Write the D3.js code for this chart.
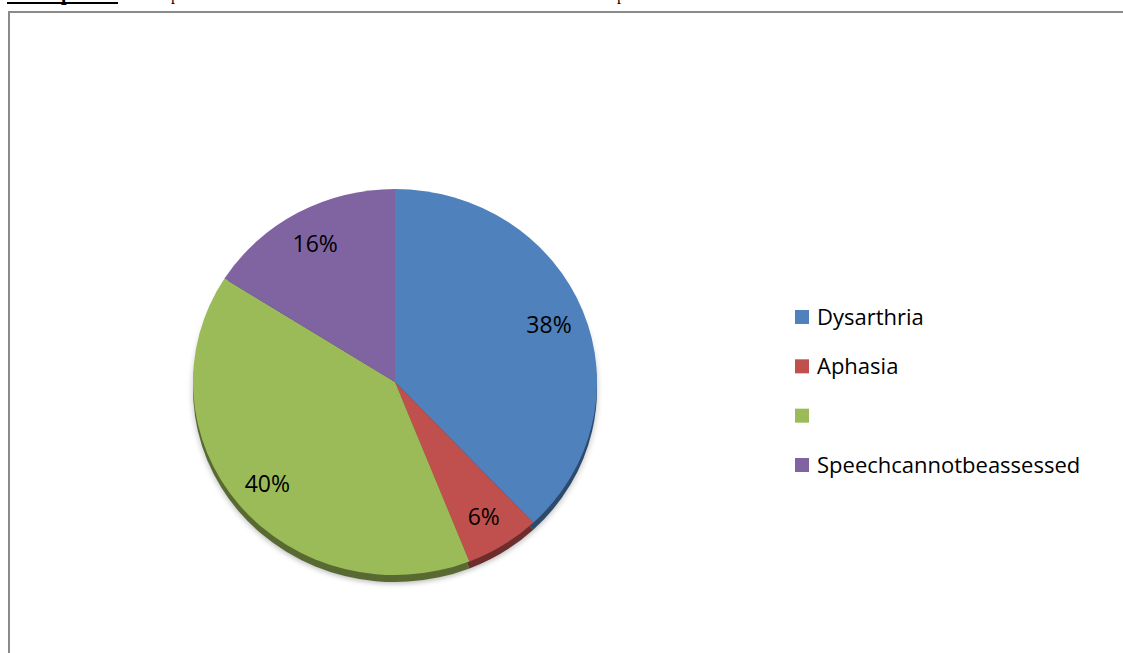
<!DOCTYPE html>
<html>
<head>
<meta charset="utf-8">
<script src="https://cdn.jsdelivr.net/npm/d3@7"></script>
<style>
  body { margin: 0; background: #fff; }
  svg { display: block; }
  .slice-label, .legend text { font-family: 'Open Sans', sans-serif; fill: #000; }
</style>
</head>
<body>
<div id="chart"></div>
<script>
// chart data
const categories = ['Dysarthria', 'Aphasia', '', 'Speechcannotbeassessed'];
const values = [38, 6, 40, 16];
const sliceColors = ['#4f81bd', '#c0504d', '#9bbb59', '#8064a2'];

const totalWidth = 1123;
const totalHeight = 653;

const svg = d3.select('#chart').append('svg')
    .attr('width', totalWidth)
    .attr('height', totalHeight);

// cut-off caption line above the frame
svg.append('text')
    .attr('x', 7)
    .attr('y', 0)
    .attr('font-family', 'Liberation Serif, serif')
    .attr('font-weight', 'bold')
    .attr('font-size', 20)
    .attr('textLength', 111)
    .attr('lengthAdjust', 'spacing')
    .text('Graph 4');
svg.append('line')
    .attr('x1', 7).attr('x2', 118)
    .attr('y1', 3).attr('y2', 3)
    .attr('stroke', '#000')
    .attr('stroke-width', 2);
svg.append('text')
    .attr('y', 0)
    .attr('font-family', 'Liberation Serif, serif')
    .attr('font-size', 16)
  .selectAll('tspan')
  .data([{x: 162, t: 'Speech disorders in the studied'}, {x: 617, t: 'patients'}])
  .enter().append('tspan')
    .attr('x', function(d) { return d.x; })
    .text(function(d) { return d.t; });

// frame
svg.append('path')
    .attr('d', 'M9,653 V12 H1123')
    .attr('fill', 'none')
    .attr('stroke', '#8a8a8a')
    .attr('stroke-width', 2);

const cx = 395;
const cy = 382;
const radius = 202;
const squash = 193 / 202;
const depth = 7;

const color = d3.scaleOrdinal().domain(categories).range(sliceColors);

const pie = d3.pie().sort(null).value(function(d) { return d; });
const arcs = pie(values);
const arc = d3.arc().innerRadius(0).outerRadius(radius);
const labelArc = d3.arc().innerRadius(radius * 0.82).outerRadius(radius * 0.82);

// soft shadow
const defs = svg.append('defs');
defs.append('filter').attr('id', 'blur')
  .append('feGaussianBlur').attr('stdDeviation', 3);

const sideG = svg.append('g')
    .attr('transform', 'translate(' + cx + ',' + (cy + depth) + ') scale(1,' + squash + ')');
sideG.append('ellipse')
    .attr('rx', radius).attr('ry', radius)
    .attr('cy', 2)
    .attr('fill', '#000')
    .attr('opacity', 0.25)
    .attr('filter', 'url(#blur)');
sideG.selectAll('.side-slice')
  .data(arcs)
  .enter().append('path')
    .attr('class', 'side-slice')
    .attr('d', arc)
    .attr('fill', function(d, i) {
      return d3.color(color(categories[i])).darker(1.6);
    });

const faceG = svg.append('g')
    .attr('transform', 'translate(' + cx + ',' + cy + ') scale(1,' + squash + ')');
faceG.selectAll('.slice')
  .data(arcs)
  .enter().append('path')
    .attr('class', 'slice')
    .attr('d', arc)
    .attr('fill', function(d, i) { return color(categories[i]); });

// labels
const total = d3.sum(values);
const fmt = d3.format('.0%');
svg.append('g')
    .attr('transform', 'translate(' + cx + ',' + cy + ')')
  .selectAll('.slice-label')
  .data(arcs)
  .enter().append('text')
    .attr('class', 'slice-label')
    .attr('x', function(d) { return labelArc.centroid(d)[0]; })
    .attr('y', function(d) { return labelArc.centroid(d)[1] * squash; })
    .attr('text-anchor', 'middle')
    .attr('dominant-baseline', 'central')
    .attr('font-size', 23)
    .text(function(d) { return fmt(d.value / total); });

// legend
const legendY = d3.scalePoint()
    .domain(d3.range(categories.length))
    .range([317, 465]);

const legend = svg.append('g').attr('class', 'legend');
const item = legend.selectAll('g')
  .data(categories)
  .enter().append('g')
    .attr('transform', function(d, i) { return 'translate(795,' + legendY(i) + ')'; });
item.append('rect')
    .attr('x', 0).attr('y', -7)
    .attr('width', 14).attr('height', 14)
    .attr('fill', function(d) { return color(d); });
item.append('text')
    .attr('x', 22)
    .attr('y', 8)
    .attr('font-size', 22)
    .text(function(d) { return d; });
</script>
</body>
</html>
